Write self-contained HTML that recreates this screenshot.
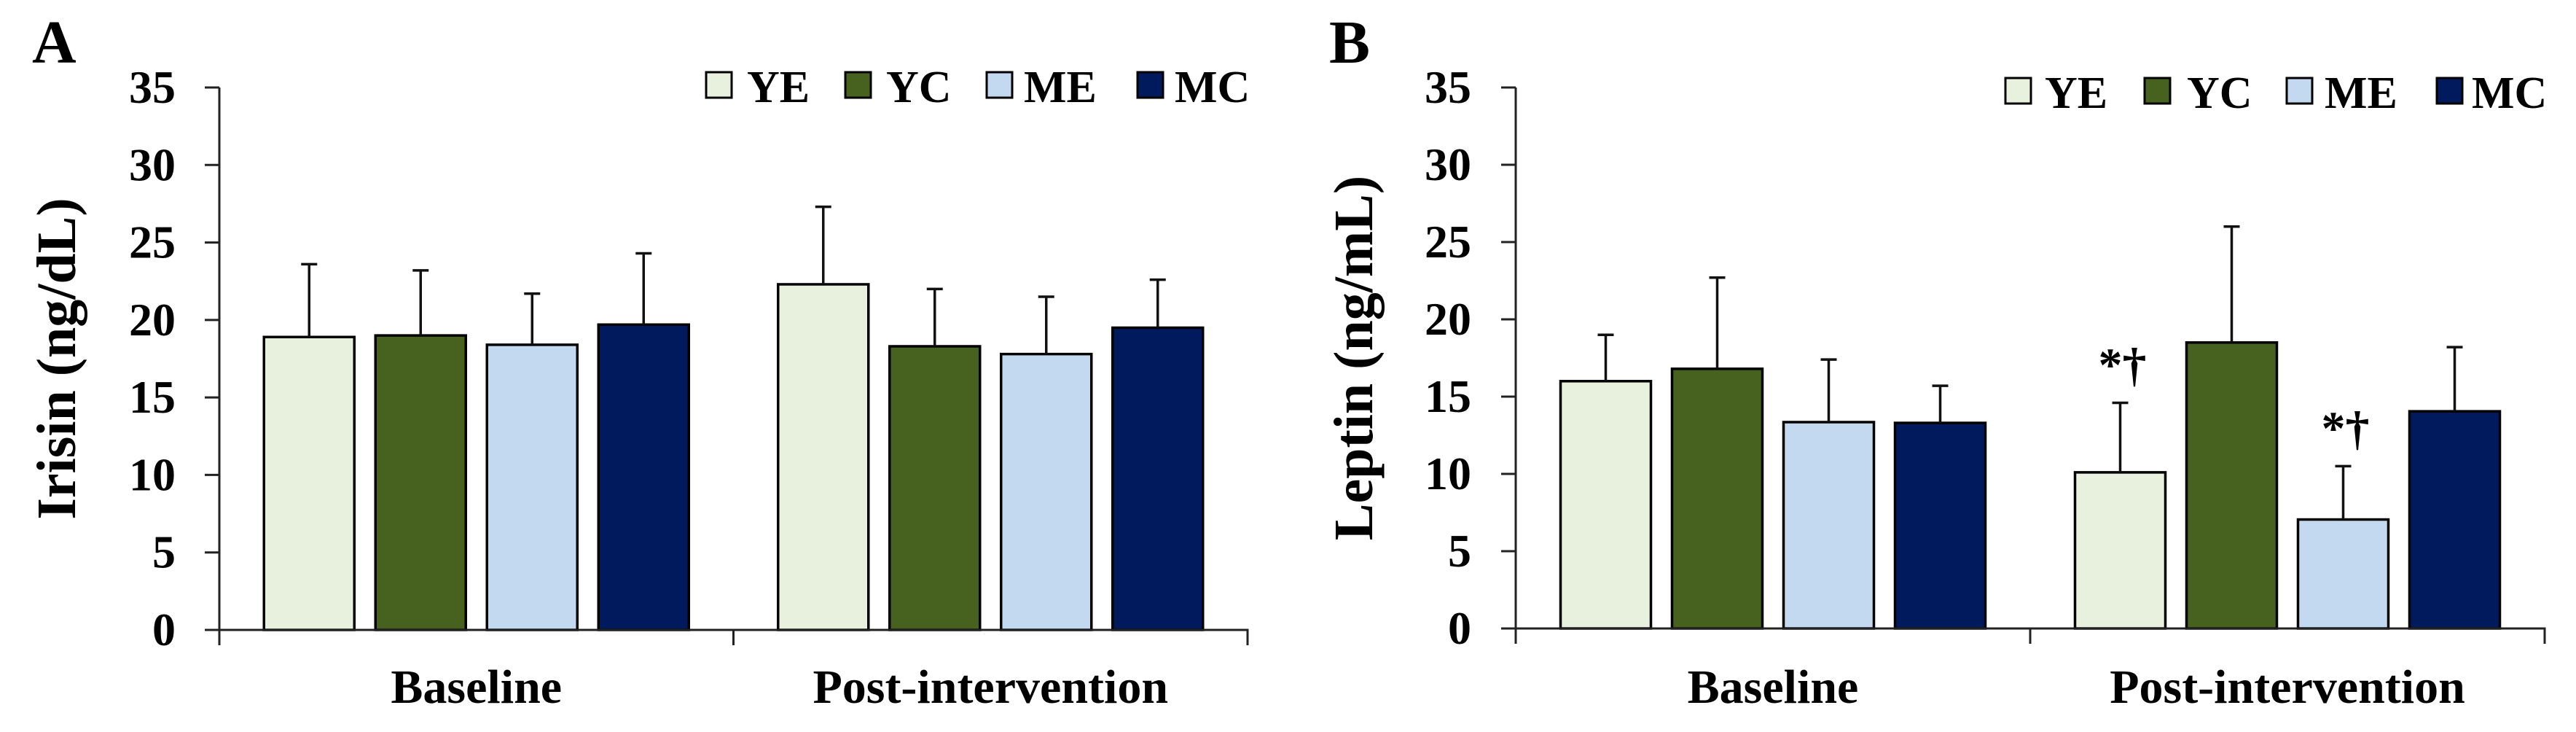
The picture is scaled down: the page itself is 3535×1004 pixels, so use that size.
<!DOCTYPE html>
<html><head><meta charset="utf-8"><style>
html,body{margin:0;padding:0;background:#fff;}
svg{display:block;}
text{font-family:"Liberation Serif",serif;font-weight:bold;fill:#000;}
</style></head><body>
<svg id="chart" width="3535" height="1004" viewBox="0 0 3535 1004" xmlns="http://www.w3.org/2000/svg"></svg>
<script>
const series = ["YE","YC","ME","MC"];
const colors = ["#e8f0de","#46621e","#c3d9f0","#001a5e"];
const categories = ["Baseline","Post-intervention"];
const yTicks = [0,5,10,15,20,25,30,35];
const irisinMean = [[18.9,19.0,18.4,19.7],[22.3,18.3,17.8,19.5]];
const irisinErr  = [[23.6,23.2,21.7,24.3],[27.3,22.0,21.5,22.6]];
const leptinMean = [[16.0,16.8,13.35,13.3],[10.1,18.5,7.05,14.05]];
const leptinErr  = [[19.0,22.7,17.4,15.7],[14.6,26.0,10.5,18.2]];
const leptinMarks = [[null,null,null,null],["*†",null,"*†",null]];

const NS="http://www.w3.org/2000/svg";
const svg=document.getElementById('chart');
function mk(tag,attrs,parent,txt){const e=document.createElementNS(NS,tag);for(const k in attrs)e.setAttribute(k,attrs[k]);if(txt!=null)e.textContent=txt;(parent||svg).appendChild(e);return e;}

function panel(o){
  const g=mk('g',{});
  
  
  const y=v=>o.y0-(v/35)*(o.y0-o.y35);
  const catW=(o.x1-o.x0)/categories.length;
  const barW=124, gap=29;
  const L=mk('text',{x:o.letterX,y:86,'font-size':84},g,o.letter);
  
  
  const cy=(o.y0+o.y35)/2;
  const t=mk('text',{x:o.titleX,y:cy,'font-size':76,'text-anchor':'middle',transform:`rotate(-90 ${o.titleX} ${cy})`,'dominant-baseline':'central'},g,o.title);
  
  
  categories.forEach((c,ci)=>{
    const center=o.x0+catW*(ci+0.5);
    const start=center-(4*barW+3*gap)/2;
    series.forEach((s,si)=>{
      const bx=start+si*(barW+gap);
      const m=o.mean[ci][si], e=o.err[ci][si];
      const r=mk('rect',{x:bx,y:y(m),width:barW,height:y(0)-y(m),fill:colors[si],stroke:'#000','stroke-width':3.5},g);
      
      
      const cx=bx+barW/2;
      const eb=mk('path',{d:`M${cx} ${y(m)}V${y(e)}M${cx-11} ${y(e)}H${cx+11}`,stroke:'#111','stroke-width':3.5,fill:'none'},g);
      
      
      if(o.marks && o.marks[ci][si]){
        const a=mk('text',{x:cx+3,y:y(e)-30,'font-size':66,'text-anchor':'middle'},g,o.marks[ci][si]);
        
        
      }
    });
    const cl=mk('text',{x:center,y:964,'font-size':66,'text-anchor':'middle'},g,c);
    
    
  });
  const ya=mk('path',{d:`M${o.x0} ${o.y35}V${o.y0+21}`,stroke:'#222','stroke-width':3,fill:'none'},g);
  
  
  const xa=mk('path',{d:`M${o.x0-20} ${o.y0}H${o.x1}V${o.y0+21}M${o.x0+catW} ${o.y0}V${o.y0+21}`,stroke:'#222','stroke-width':3,fill:'none'},g);
  
  
  yTicks.forEach(v=>{
    const tk=mk('path',{d:`M${o.x0-20} ${y(v)}H${o.x0}`,stroke:'#222','stroke-width':3},g);
    
    
    const tl=mk('text',{x:o.tickLabelX,y:y(v)+21,'font-size':64,'text-anchor':'end'},g,String(v));
    
    
  });
  series.forEach((s,si)=>{
    const lg=mk('g',{},g);
    
    
    mk('rect',{x:o.legBox[si],y:o.legY,width:35,height:35,fill:colors[si],stroke:'#000','stroke-width':3},lg);
    mk('text',{x:o.legText[si],y:o.legY+41,'font-size':62},lg,s);
  });
}

panel({name:'panel-a-irisin',letter:'A',letterX:44,title:'Irisin (ng/dL)',titleX:78,x0:301,x1:1712,y0:864,y35:120,tickLabelX:241,
  mean:irisinMean,err:irisinErr,legY:99,legBox:[969,1160,1354,1561],legText:[1025,1216,1405,1612]});
panel({name:'panel-b-leptin',letter:'B',letterX:1824,title:'Leptin (ng/mL)',titleX:1858,x0:2080,x1:3492,y0:862,y35:120,tickLabelX:2019,
  mean:leptinMean,err:leptinErr,marks:leptinMarks,legY:107,legBox:[2752,2943,3138,3344],legText:[2806,3001,3190,3392]});
</script>
</body></html>
